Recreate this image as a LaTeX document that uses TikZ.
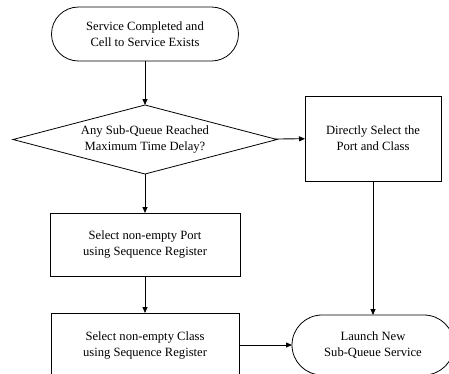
\documentclass[tikz,border=0pt]{standalone}
\usepackage{fontspec}
\setmainfont{Liberation Serif}
\usetikzlibrary{shapes.geometric,arrows.meta}
\begin{document}
\begin{tikzpicture}[x=1pt,y=-1pt,
  every node/.style={font=\fontsize{12.6}{16}\selectfont, align=center, inner sep=0pt, outer sep=0pt},
  terminal/.style={draw, line width=0.8pt, rounded corners=27pt},
  procbox/.style={draw, line width=0.8pt},
  decision/.style={draw, line width=0.8pt, diamond, aspect=3.83},
  flow/.style={line width=0.8pt, -{Triangle[length=6pt,width=5pt]}}]
\useasboundingbox (0,0) rectangle (449,373);
\clip (0,0) rectangle (449,373);

\node[terminal, minimum width=187pt, minimum height=54pt] (start) at (145,34) {Service Completed and\\Cell to Service Exists};
\node[decision, minimum width=264pt, minimum height=69pt] (dec) at (145,139.5) {Any Sub-Queue Reached\\Maximum Time Delay?};
\node[procbox, minimum width=136pt, minimum height=85pt] (direct) at (373,138.5) {Directly Select the\\Port and Class};
\node[procbox, minimum width=190pt, minimum height=63pt] (port) at (145,244.5) {Select non-empty Port\\using Sequence Register};
\node[procbox, minimum width=188pt, minimum height=64pt] (cls) at (145,345) {Select non-empty Class\\using Sequence Register};
\node[terminal, rounded corners=30pt, minimum width=162pt, minimum height=60pt] (launch) at (373,345) {Launch New\\Sub-Queue Service};

\draw[flow] (start) -- (dec);
\draw[flow] (dec) -- (direct);
\draw[flow] (dec) -- (port);
\draw[flow] (port) -- (cls);
\draw[flow] (cls) -- (launch);
\draw[flow] (direct) -- (launch);
\end{tikzpicture}
\end{document}
